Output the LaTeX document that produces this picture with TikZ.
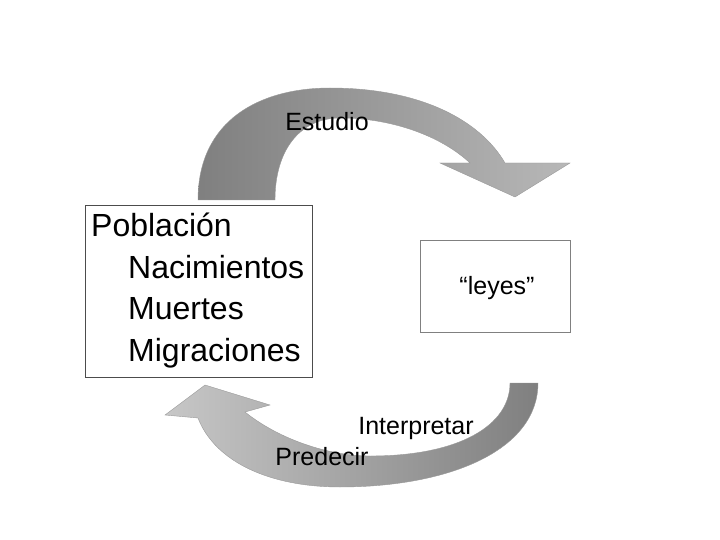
\documentclass[tikz,border=0pt]{standalone}
\usepackage{fontspec}
\setmainfont{Liberation Sans}
\begin{document}
\begin{tikzpicture}[x=1pt,y=-1pt,
  band/.style={draw=gray!80,line width=0.4pt},
  box/.style={draw=black!70,line width=0.6pt},
  lab/.style={font=\fontsize{25}{30}\selectfont}]
\useasboundingbox (0,0) rectangle (720,540);
% top arrow
\path[band,left color=black!50,right color=black!28]
 (198,200) .. controls (198,120) and (260,88) .. (330,88)
 .. controls (420,88) and (480,120) .. (505,163) -- (570,163) -- (515,197) -- (440,163) -- (470,163)
 .. controls (440,135) and (390,118) .. (340,118)
 .. controls (300,118) and (275,150) .. (275,200) -- cycle;
% bottom arrow
\path[band,left color=black!22,right color=black!50]
 (538,383) .. controls (538,450) and (450,487) .. (340,487)
 .. controls (270,487) and (215,462) .. (198,418) -- (165,415) -- (205,385) -- (270,405) -- (245,412)
 .. controls (280,440) and (330,456) .. (370,456)
 .. controls (460,456) and (510,425) .. (510,383) -- cycle;
\node[box,fill=white,minimum width=227pt,minimum height=172pt] (pop) at (198.5,291) {};
\node[anchor=north west,align=left,font=\fontsize{32}{41.5}\selectfont,inner sep=0pt] (t) at (91,213)
 {Población\\\hspace*{37pt}Nacimientos\\\hspace*{37pt}Muertes\\\hspace*{37pt}Migraciones};
\node[box,fill=white,draw=black!50,minimum width=150pt,minimum height=92pt] (ley) at (495,286) {};
\node[lab] (leyes) at (497,288) {“leyes”};
\node[lab] (est) at (327,122) {Estudio};
\node[lab] (int) at (416,428) {Interpretar};
\node[lab] (pre) at (322,457) {Predecir};
\end{tikzpicture}
\end{document}
